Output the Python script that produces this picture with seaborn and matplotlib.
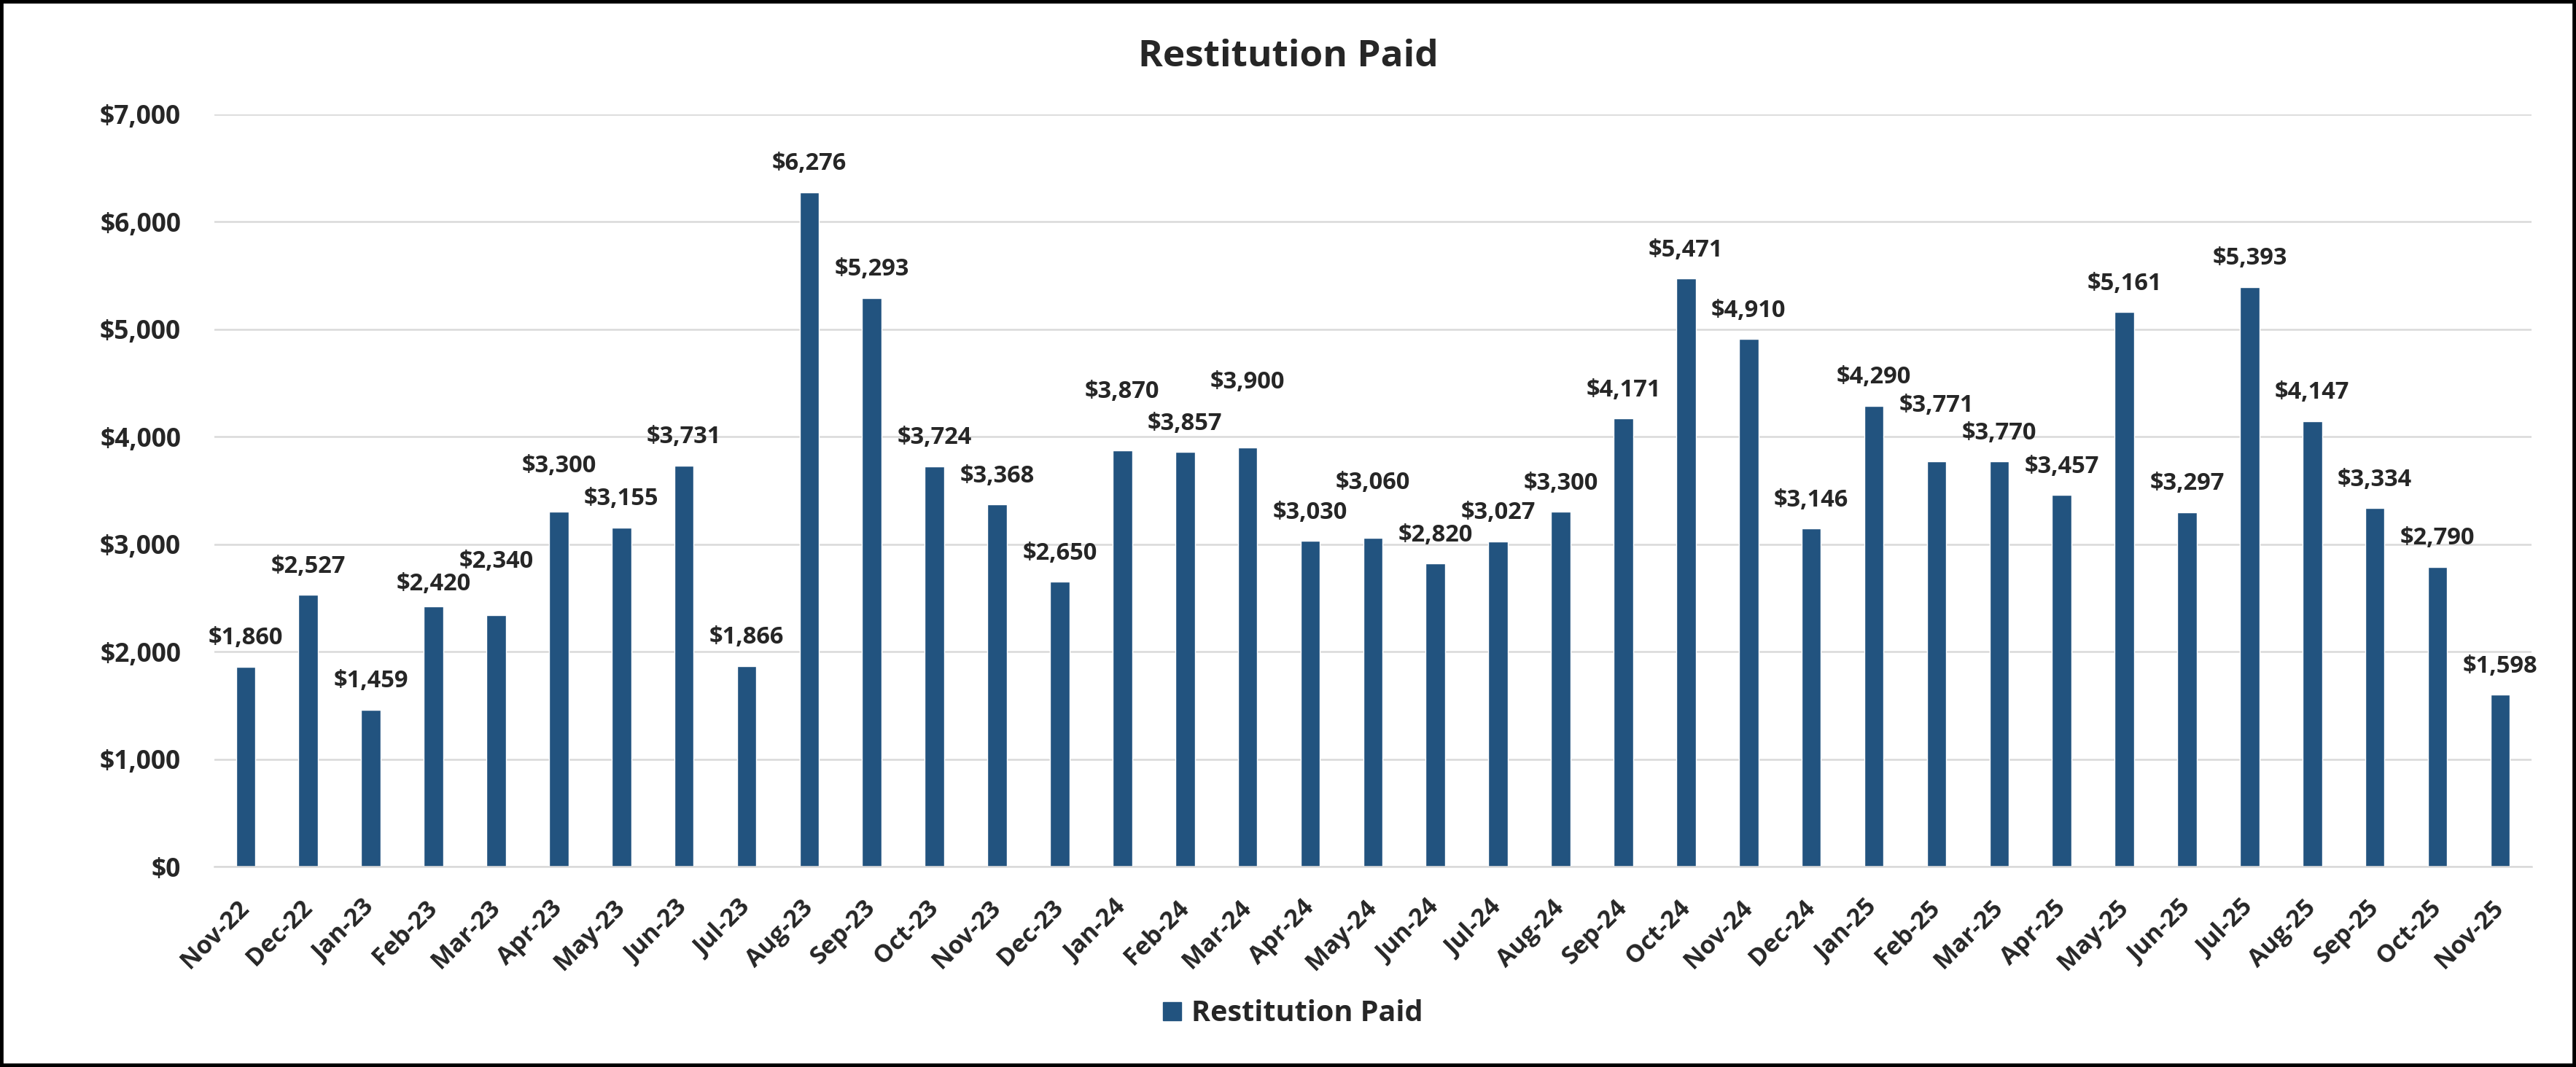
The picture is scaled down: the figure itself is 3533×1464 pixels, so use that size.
import pandas as pd
import seaborn as sns
import matplotlib.pyplot as plt
from matplotlib.patches import Rectangle, Patch
from matplotlib.ticker import FuncFormatter

# Monthly restitution paid
months = ["Nov-22", "Dec-22", "Jan-23", "Feb-23", "Mar-23", "Apr-23", "May-23", "Jun-23",
          "Jul-23", "Aug-23", "Sep-23", "Oct-23", "Nov-23", "Dec-23", "Jan-24", "Feb-24",
          "Mar-24", "Apr-24", "May-24", "Jun-24", "Jul-24", "Aug-24", "Sep-24", "Oct-24",
          "Nov-24", "Dec-24", "Jan-25", "Feb-25", "Mar-25", "Apr-25", "May-25", "Jun-25",
          "Jul-25", "Aug-25", "Sep-25", "Oct-25", "Nov-25"]
paid = [1860, 2527, 1459, 2420, 2340, 3300, 3155, 3731,
        1866, 6276, 5293, 3724, 3368, 2650, 3870, 3857,
        3900, 3030, 3060, 2820, 3027, 3300, 4171, 5471,
        4910, 3146, 4290, 3771, 3770, 3457, 5161, 3297,
        5393, 4147, 3334, 2790, 1598]

df = pd.DataFrame({"month": months, "paid": paid})

BAR = "#22537f"
GRID = "#d9d9d9"

sns.set_style("white")
plt.rcParams['font.family'] = ['Open Sans', 'DejaVu Sans']
plt.rcParams['font.weight'] = 'bold'

fig = plt.figure(figsize=(35.33, 14.64), dpi=100)
ax = fig.add_axes([0.0832, 0.1878, 0.8995, 0.705])

sns.barplot(data=df, x="month", y="paid", color=BAR, width=0.31, saturation=1, ax=ax)

ax.set_ylim(0, 7000)
ax.set_xlim(-0.5, len(months) - 0.5)
ax.set_yticks(range(0, 7001, 1000))
ax.yaxis.set_major_formatter(FuncFormatter(lambda v, p: f"${v:,.0f}"))
ax.grid(axis="y", color=GRID, linewidth=1.8)
ax.set_axisbelow(True)
for s in ["top", "right", "left"]:
    ax.spines[s].set_visible(False)
ax.spines["bottom"].set_color(GRID)
ax.spines["bottom"].set_linewidth(1.8)
ax.tick_params(axis="y", length=0, labelsize=25.5, pad=33)
ax.tick_params(axis="x", length=0, labelsize=24.5, pad=37)
plt.setp(ax.get_xticklabels(), rotation=45, ha="right", va="center",
         rotation_mode="anchor", fontweight="bold")
plt.setp(ax.get_yticklabels(), fontweight="bold")
ax.set_xlabel("")
ax.set_ylabel("")

# value labels; some were dragged in the original to avoid overlaps (points)
nudge = {"Feb-23": -6, "Mar-23": 25, "Apr-23": 17, "Jan-24": 30, "Mar-24": 36,
         "May-24": 26, "Feb-25": 27}
for bar, m, v in zip(ax.containers[0], months, paid):
    ax.annotate(f"${v:,}", (bar.get_x() + bar.get_width() / 2, bar.get_height()),
                xytext=(0, 22 + nudge.get(m, 0)), textcoords="offset points",
                ha="center", va="baseline", fontsize=23.5, fontweight="bold")

fig.suptitle("Restitution Paid", fontsize=37, fontweight="bold", y=0.947, va="center")

fig.legend(handles=[Patch(color=BAR, label="Restitution Paid")], loc="center",
           bbox_to_anchor=(0.502, 0.050), frameon=False, fontsize=28.5,
           handlelength=0.62, handleheight=0.62, handletextpad=0.36)

fig.patches.append(Rectangle((0, 0), 1, 1, transform=fig.transFigure,
                             fill=False, edgecolor="black", linewidth=7))

fig.savefig("out.png", dpi=100)
